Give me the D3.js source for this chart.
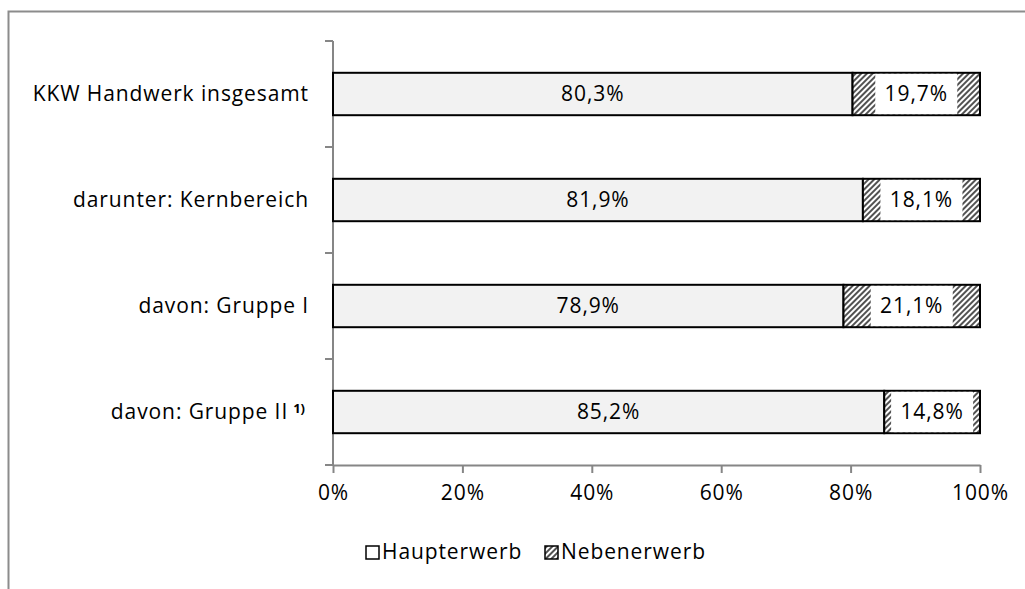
<!DOCTYPE html>
<html>
<head>
<meta charset="utf-8">
<script src="https://cdn.jsdelivr.net/npm/d3@7"></script>
<style>
    body { margin: 0; background: #fff; }
    svg text { font-family: "Open Sans", "Noto Sans", sans-serif; fill: #000; letter-spacing: 0.9px; }
</style>
</head>
<body>
<svg id="chart" width="1025" height="589"></svg>
<script>
'use strict';
let categories = ["KKW Handwerk insgesamt", "darunter: Kernbereich", "davon: Gruppe I", "davon: Gruppe II"];
let haupterwerb = [80.3, 81.9, 78.9, 85.2];
let nebenerwerb = [19.7, 18.1, 21.1, 14.8];
let xTicks = [0, 20, 40, 60, 80, 100];
let legendLabels = ["Haupterwerb", "Nebenerwerb"];

let fmt = v => d3.format(".1f")(v).replace(".", ",") + "%";
let fontSize = 21;

let svg = d3.select("#chart");
let margin = {top: 41, right: 45, bottom: 124, left: 333};
let width = +svg.attr("width"), height = +svg.attr("height");

// hatch pattern
let defs = svg.append("defs");
let pat = defs.append("pattern")
    .attr("id", "hatch")
    .attr("patternUnits", "userSpaceOnUse")
    .attr("width", 4).attr("height", 4)
    .attr("patternTransform", "rotate(45)");
pat.append("rect").attr("width", 4).attr("height", 4).attr("fill", "#fff");
pat.append("line").attr("x1", 1).attr("y1", 0).attr("x2", 1).attr("y2", 4)
    .attr("stroke", "#333").attr("stroke-width", 1.7);

// outer frame (extends beyond picture)
svg.append("rect")
    .attr("x", 8.5).attr("y", 11.5)
    .attr("width", 1100).attr("height", 700)
    .attr("fill", "none").attr("stroke", "#8c8c8c").attr("stroke-width", 2);

let x = d3.scaleLinear()
    .domain([0, 100])
    .range([margin.left, width - margin.right]);

let y = d3.scaleBand()
    .domain(categories)
    .range([margin.top, height - margin.bottom])
    .paddingInner(0.6).paddingOuter(0.3);

let yOuter = d3.scaleBand()
    .domain(categories)
    .range([margin.top, height - margin.bottom]);

// x axis
let xAxis = svg.append("g")
    .attr("transform", "translate(0," + (height - margin.bottom) + ")")
    .call(d3.axisBottom(x).tickValues(xTicks).tickFormat(d => d + "%").tickSize(8).tickSizeOuter(0).tickPadding(12));
xAxis.select(".domain").attr("stroke", "#868686").attr("stroke-width", 2);
xAxis.selectAll(".tick line").attr("stroke", "#868686").attr("stroke-width", 2);
xAxis.selectAll(".tick text").attr("font-size", fontSize).style("font-family", "'Open Sans', sans-serif").attr("fill", "#000");

// y axis line and ticks at category boundaries
let yEdges = categories.map(c => yOuter(c)).concat([height - margin.bottom]);
svg.append("line")
    .attr("x1", margin.left).attr("x2", margin.left)
    .attr("y1", margin.top).attr("y2", height - margin.bottom)
    .attr("stroke", "#868686").attr("stroke-width", 2);
svg.selectAll(".ytick")
    .data(yEdges)
    .enter().append("line")
    .attr("x1", margin.left - 8).attr("x2", margin.left)
    .attr("y1", d => d).attr("y2", d => d)
    .attr("stroke", "#868686").attr("stroke-width", 2);

// category labels
let catText = svg.selectAll(".cat")
    .data(categories)
    .enter().append("text")
    .attr("x", 309)
    .attr("y", d => y(d) + y.bandwidth() / 2)
    .attr("dy", "0.35em")
    .attr("text-anchor", "end")
    .attr("font-size", fontSize)
    .text(d => d);
catText.filter((d, i) => i === 3)
    .attr("x", 305)
    .append("tspan")
    .attr("dx", 5)
    .attr("dy", "-0.5em")
    .attr("font-size", 13)
    .attr("font-weight", "bold")
    .style("letter-spacing", "0px")
    .text("1)");

// bars
let rows = categories.map((c, i) => ({cat: c, h: haupterwerb[i], n: nebenerwerb[i]}));
let g = svg.selectAll(".row").data(rows).enter().append("g");

g.append("rect")
    .attr("x", x(0))
    .attr("y", d => y(d.cat))
    .attr("width", d => x(d.h) - x(0))
    .attr("height", y.bandwidth())
    .attr("fill", "#f2f2f2")
    .attr("stroke", "#000").attr("stroke-width", 2);

g.append("rect")
    .attr("x", d => x(d.h))
    .attr("y", d => y(d.cat))
    .attr("width", d => x(d.h + d.n) - x(d.h))
    .attr("height", y.bandwidth())
    .attr("fill", "url(#hatch)")
    .attr("stroke", "#000").attr("stroke-width", 2);

// labels
g.append("text")
    .attr("x", d => (x(0) + x(d.h)) / 2)
    .attr("y", d => y(d.cat) + y.bandwidth() / 2)
    .attr("dy", "0.35em")
    .attr("text-anchor", "middle")
    .attr("font-size", fontSize)
    .text(d => fmt(d.h));

g.append("rect")
    .attr("x", d => (x(d.h) + x(d.h + d.n)) / 2 - 41)
    .attr("y", d => y(d.cat) + 1)
    .attr("width", 82)
    .attr("height", y.bandwidth() - 2)
    .attr("fill", "#fff");

g.append("text")
    .attr("x", d => (x(d.h) + x(d.h + d.n)) / 2)
    .attr("y", d => y(d.cat) + y.bandwidth() / 2)
    .attr("dy", "0.35em")
    .attr("text-anchor", "middle")
    .attr("font-size", fontSize)
    .text(d => fmt(d.n));

// legend
let legend = svg.append("g");
let legX = [366, 545];
let fills = ["#fff", "url(#hatch)"];
legendLabels.forEach((l, i) => {
    legend.append("rect")
        .attr("x", legX[i]).attr("y", 546)
        .attr("width", 13).attr("height", 13)
        .attr("fill", fills[i])
        .attr("stroke", "#000").attr("stroke-width", 1.5);
    legend.append("text")
        .attr("x", legX[i] + 16).attr("y", 552)
        .attr("dy", "0.35em")
        .attr("font-size", fontSize)
        .text(l);
});
</script>
</body>
</html>
